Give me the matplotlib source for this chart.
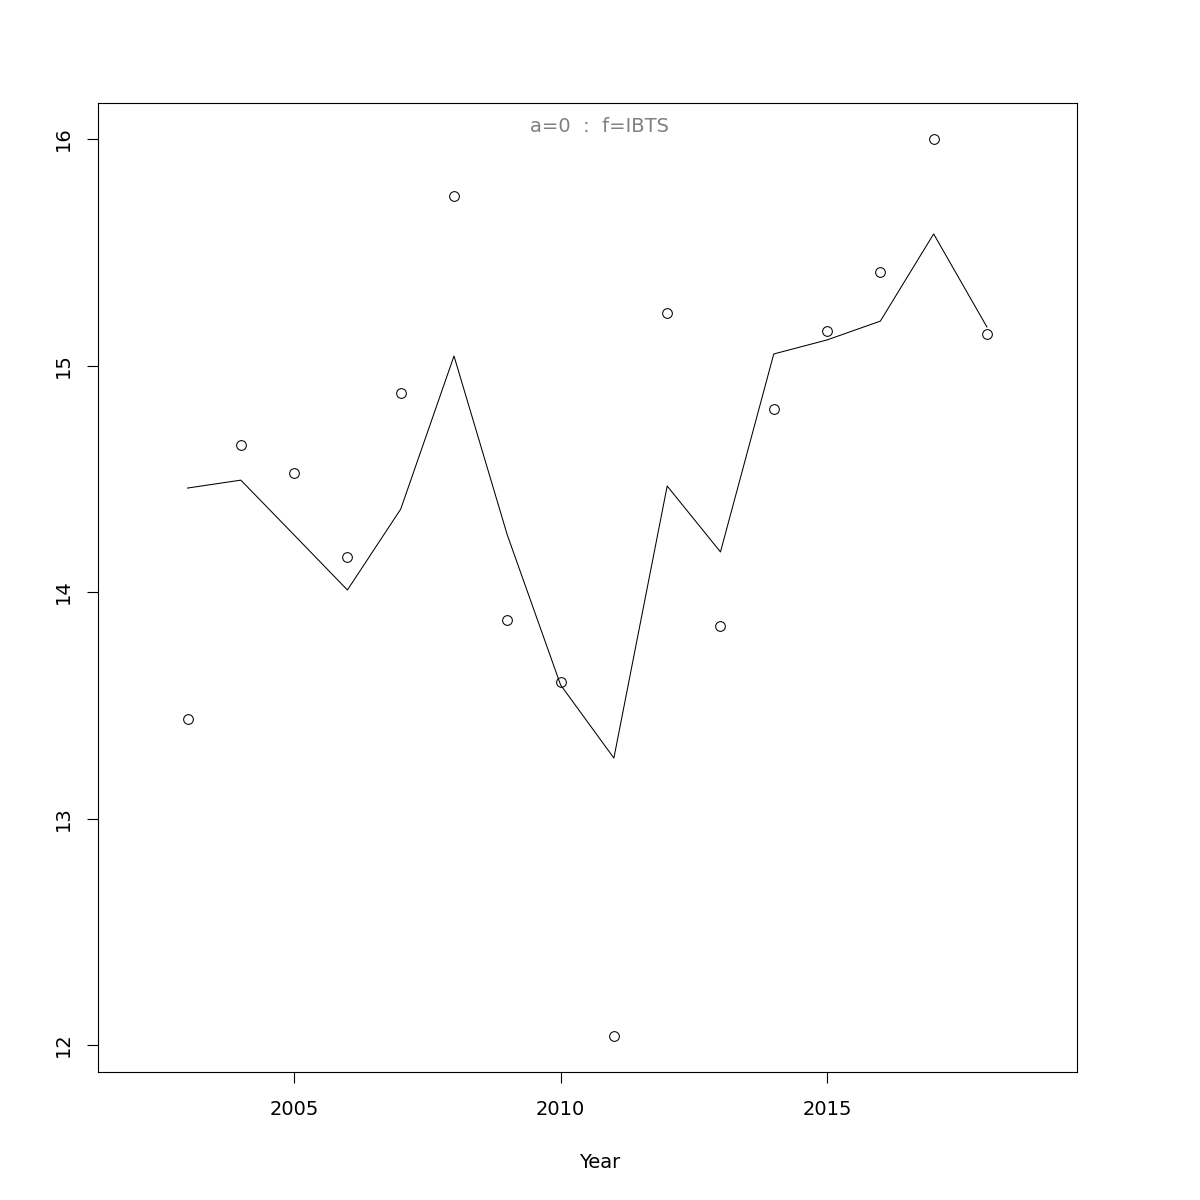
import matplotlib.pyplot as plt

years = list(range(2003, 2019))
observed = [13.44, 14.65, 14.525, 14.155, 14.879, 15.748, 13.876, 13.603,
            12.04, 15.232, 13.85, 14.808, 15.152, 15.413, 16.0, 15.139]
fitted = [14.459, 14.494, 14.252, 14.009, 14.366, 15.042, 14.252, 13.59,
          13.267, 14.468, 14.177, 15.051, 15.113, 15.196, 15.581, 15.17]
xticks = [2005, 2010, 2015]
yticks = [12, 13, 14, 15, 16]

fig = plt.figure(figsize=(12, 12), dpi=100)
ax = fig.add_axes([98 / 1200, 128 / 1200, 979 / 1200, 969 / 1200])

ax.plot(years, observed, linestyle='', marker='o', markersize=7,
        markerfacecolor='none', markeredgecolor='black', markeredgewidth=0.75)
ax.plot(years, fitted, color='black', linewidth=0.75)

ax.set_xlim(2001.32, 2019.69)
ax.set_ylim(11.881, 16.159)
ax.set_xticks(xticks)
ax.set_yticks(yticks)
ax.set_yticklabels([str(v) for v in yticks], rotation=90, va='center')
ax.tick_params(direction='out', length=8, width=0.8, labelsize=14, pad=12)
ax.tick_params(axis='y', pad=10)
for s in ax.spines.values():
    s.set_linewidth(0.8)

# labels centred on the figure, like R's device layout
fig.text(0.5, 1 - 1162 / 1200, 'Year', ha='center', va='center', fontsize=14)
fig.text(0.5, 1 - 127 / 1200, 'a=0  :  f=IBTS', ha='center', va='center',
         fontsize=14, color='grey')

fig.savefig('out.png', dpi=100, facecolor='white')
